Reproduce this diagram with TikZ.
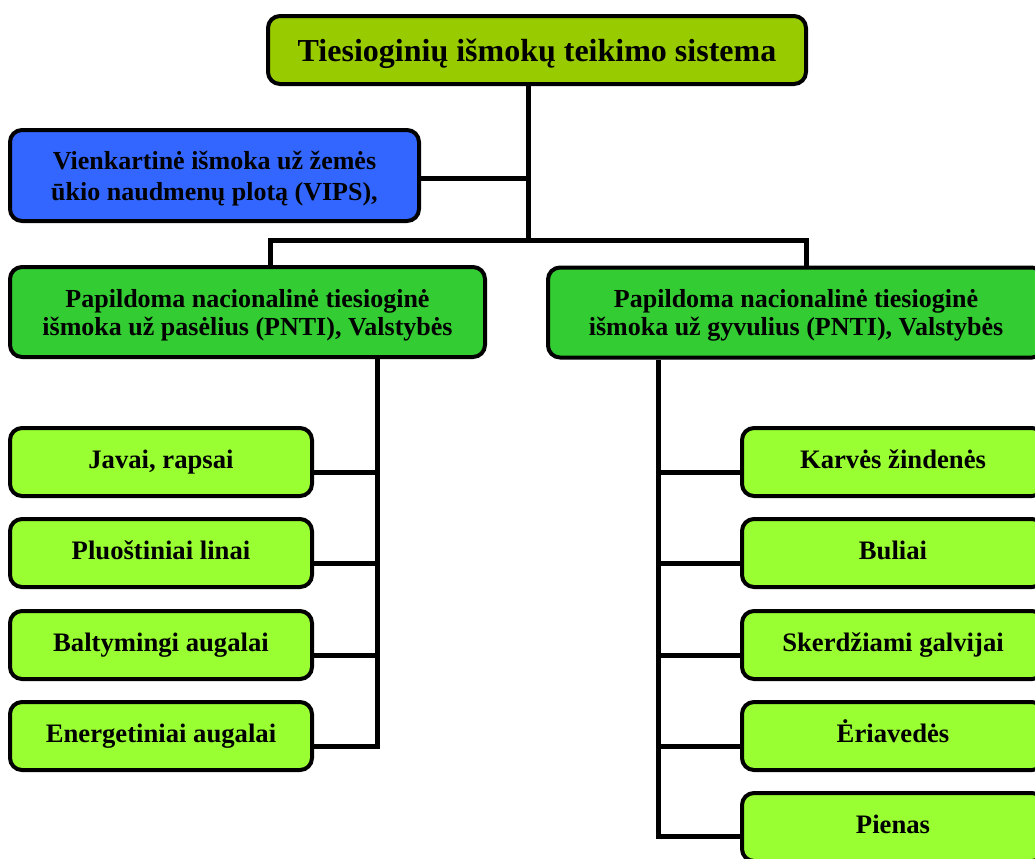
\documentclass[tikz,border=0pt]{standalone}
\usepackage{fontspec}
\setmainfont{Liberation Serif}
\definecolor{topc}{HTML}{99CC00}
\definecolor{bluec}{HTML}{3366FF}
\definecolor{midc}{HTML}{33CC33}
\definecolor{leafc}{HTML}{99FF33}
\begin{document}
\begin{tikzpicture}[x=0.75pt,y=-0.75pt,
  box/.style={draw=black,line width=3pt,rounded corners=9pt,align=center,
    font=\bfseries\fontsize{19.5}{21}\selectfont,inner sep=0pt,text depth=0pt},
  leaf/.style={box,fill=leafc,minimum width=226.5pt,minimum height=51pt,
    font=\bfseries\fontsize{20}{22}\selectfont,text height=13.5pt,text depth=4.5pt},
  conn/.style={line width=3.75pt}]
\useasboundingbox (0,0) rectangle (1035,858);
\node[box,fill=topc,minimum width=403.5pt,minimum height=51pt,
  font=\bfseries\fontsize{24}{28}\selectfont] (top) at (537,50) {Tiesioginių išmokų teikimo sistema};
\node[box,fill=bluec,minimum width=306.75pt,minimum height=68.25pt,
  font=\bfseries\fontsize{19.5}{23}\selectfont] (vips) at (214.5,175.5) {Vienkartinė išmoka už žemės\\ūkio naudmenų plotą (VIPS),};
\node[box,fill=midc,minimum width=356.25pt,minimum height=67.5pt] (lg) at (247.5,312) {Papildoma nacionalinė tiesioginė\\išmoka už pasėlius (PNTI), Valstybės};
\node[box,fill=midc,minimum width=372pt,minimum height=67.5pt] (rg) at (796,312.5) {Papildoma nacionalinė tiesioginė\\išmoka už gyvulius (PNTI), Valstybės};
\node[leaf] (l1) at (161,462) {Javai, rapsai};
\node[leaf] (l2) at (161,553) {Pluoštiniai linai};
\node[leaf] (l3) at (161,645) {Baltymingi augalai};
\node[leaf] (l4) at (161,736) {Energetiniai augalai};
\node[leaf] (r1) at (893,462) {Karvės žindenės};
\node[leaf] (r2) at (893,553) {Buliai};
\node[leaf] (r3) at (893,645) {Skerdžiami galvijai};
\node[leaf] (r4) at (893,736) {Ėriavedės};
\node[leaf] (r5) at (893,827) {Pienas};
\coordinate (tr) at (528,240);
\coordinate (barL) at (270,240);
\coordinate (barR) at (806,240);
\coordinate (lv) at (377,746);
\coordinate (rv) at (658,836);
\draw[conn] (top.south -| tr) -- (tr);
\draw[conn] ([yshift=-2pt]vips.east) -- ([yshift=-2pt]vips.east -| tr);
\draw[conn] (lg.north -| barL) -- (barL) -- (barR) -- (rg.north -| barR);
\draw[conn] (lg.south -| lv) -- (lv) -- ([yshift=-7.5pt]l4.east);
\draw[conn] (rg.south -| rv) -- (rv) -- ([yshift=-6.75pt]r5.west);
\foreach \n in {l1,l2,l3}
  \draw[conn] ([yshift=-7.5pt]\n.east) -- ([yshift=-7.5pt]\n.east -| lv);
\foreach \n in {r1,r2,r3,r4}
  \draw[conn] ([yshift=-7.5pt]\n.west) -- ([yshift=-7.5pt]\n.west -| rv);
\end{tikzpicture}
\end{document}
